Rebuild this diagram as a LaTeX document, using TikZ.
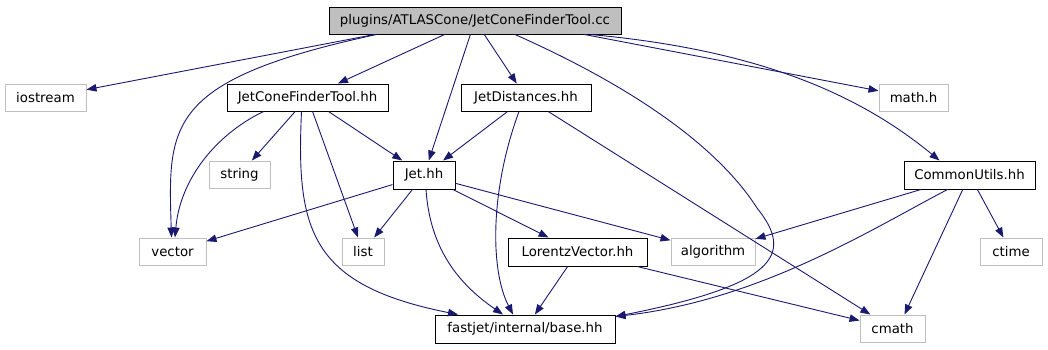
\documentclass[tikz,border=0pt]{standalone}
\usepackage{fontspec}
\setmainfont{DejaVu Sans}
\usetikzlibrary{arrows.meta}
\definecolor{edgeblue}{HTML}{191970}
\definecolor{grayb}{HTML}{BFBFBF}
\begin{document}
\begin{tikzpicture}[x=1pt,y=-1pt,
  box/.style={draw=black, line width=1pt, fill=white, inner sep=0pt,
    font=\fontsize{13.33}{16}\selectfont, text=black, minimum height=27pt},
  extbox/.style={box, draw=grayb},
  mainbox/.style={box, fill=grayb},
  dep/.style={draw=edgeblue, line width=0.9pt, -{Triangle[length=10pt,width=7.5pt]}}]
\useasboundingbox (0,0) rectangle (1048,349);
% nodes
\node[mainbox, minimum width=292pt] (main) at (475,20.5) {plugins/ATLASCone/JetConeFinderTool.cc};
\node[extbox, minimum width=81pt] (iostream) at (45.5,97.5) {iostream};
\node[box, minimum width=161pt] (jcft) at (307.5,97.5) {JetConeFinderTool.hh};
\node[box, minimum width=130pt] (jd) at (526,97.5) {JetDistances.hh};
\node[extbox, minimum width=69pt] (math) at (913.5,97.5) {math.h};
\node[extbox, minimum width=61pt] (string) at (239.5,174.5) {string};
\node[box, minimum width=62pt, minimum height=28pt] (jet) at (424,175) {Jet.hh};
\node[box, minimum width=131pt, minimum height=28pt] (cu) at (969.5,175) {CommonUtils.hh};
\node[extbox, minimum width=67pt] (vector) at (172.5,251.5) {vector};
\node[extbox, minimum width=42pt] (list) at (363,251.5) {list};
\node[box, minimum width=139pt, minimum height=28pt] (lv) at (577.5,252) {LorentzVector.hh};
\node[extbox, minimum width=84pt] (algo) at (713,251.5) {algorithm};
\node[extbox, minimum width=62pt] (ctime) at (1011,251.5) {ctime};
\node[box, minimum width=180pt, minimum height=28pt] (fj) at (525,329) {fastjet/internal/base.hh};
\node[extbox, minimum width=65pt] (cmath) at (892.5,328.5) {cmath};
\coordinate (fjin) at ([yshift=-2pt]fj.north east);
% edges from main
\draw[dep] ([xshift=46pt]main.south west) -- (iostream);
\draw[dep] ([xshift=48pt]main.south west) .. controls (165,80) and (168,125) .. ([xshift=-1pt]vector.north);
\draw[dep] (main) -- (jcft);
\draw[dep] (main) -- (jet);
\draw[dep] (main) -- (jd);
\draw[dep] ([xshift=-37pt]main.south east) -- (math);
\draw[dep] ([xshift=-31pt]main.south east) .. controls (760,50) and (860,95) .. ([xshift=-30pt]cu.north);
\draw[dep] ([xshift=40pt]main.south) .. controls (640,90) and (720,150) .. (757,208)
  .. controls (795,255) and (775,285) .. (fjin);
% edges from JetConeFinderTool.hh
\draw[dep] ([xshift=-44pt]jcft.south) .. controls (215,135) and (180,180) .. ([xshift=2.5pt]vector.north);
\draw[dep] (jcft) -- (string);
\draw[dep] (jcft) -- (list);
\draw[dep] (jcft) -- (jet);
\draw[dep] ([xshift=-6pt]jcft.south) .. controls (296,230) and (310,285) .. ([xshift=-67pt]fj.north);
% edges from JetDistances.hh
\draw[dep] (jd) -- (jet);
\draw[dep] ([xshift=-7pt]jd.south) .. controls (490,190) and (490,270) .. ([xshift=-12pt]fj.north);
\draw[dep] (jd) -- (cmath);
% edges from Jet.hh
\draw[dep] (jet) -- (vector);
\draw[dep] (jet) -- (list);
\draw[dep] ([xshift=2pt]jet.south) .. controls (430,250) and (460,285) .. ([xshift=-22pt]fj.north);
\draw[dep] (jet) -- (lv);
\draw[dep] (jet) -- (algo);
% edges from CommonUtils.hh
\draw[dep] (cu) -- (algo);
\draw[dep] ([xshift=-22pt]cu.south) .. controls (870,230) and (760,300) .. (fjin);
\draw[dep] (cu) -- ([xshift=12pt]cmath.north);
\draw[dep] (cu) -- (ctime);
% edges from LorentzVector.hh
\draw[dep] (lv) -- (fj);
\draw[dep] (lv) -- (cmath);
\end{tikzpicture}
\end{document}
